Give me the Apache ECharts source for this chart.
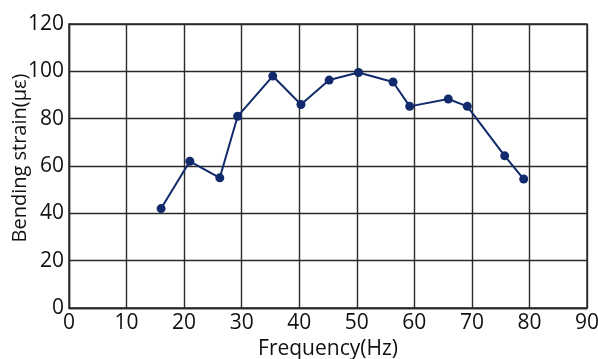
<!DOCTYPE html>
<html>
<head>
<meta charset="utf-8">
<script src="https://cdn.jsdelivr.net/npm/echarts@6/dist/echarts.min.js"></script>
<style>
  html, body { margin: 0; padding: 0; background: #fff; }
  #chart { width: 598px; height: 359px; }
</style>
</head>
<body>
<div id="chart"></div>
<script>
// 频率 (Hz) 与弯曲应变 (με)
const freq = [16, 21, 26.2, 29.3, 35.4, 40.3, 45.2, 50.3, 56.3, 59.2, 65.9, 69.2, 75.7, 79];
const strain = [42, 62, 55, 81, 98, 86, 96.3, 99.5, 95.5, 85.2, 88.3, 85.2, 64.3, 54.5];

const points = freq.map((f, i) => [f, strain[i]]);

const myChart = echarts.init(document.getElementById('chart'));

const gridLine = { show: true, lineStyle: { color: '#2a2a2a', width: 1.4 } };
const labelFont = { color: '#111', fontSize: 21, fontFamily: 'Open Sans' };

const option = {
    animation: false,
    backgroundColor: '#fff',
    grid: {
        left: 69,
        right: 11,
        top: 24,
        bottom: 51,
        outerBoundsMode: 'none',
        containLabel: false,
        show: true,
        borderColor: '#2a2a2a',
        borderWidth: 1.4
    },
    xAxis: {
        type: 'value',
        min: 0,
        max: 90,
        interval: 10,
        name: 'Frequency(Hz)',
        nameLocation: 'middle',
        nameGap: 31,
        nameMoveOverlap: false,
        nameTextStyle: { color: '#111', fontSize: 21, fontFamily: 'Open Sans' },
        axisLine: { show: true, lineStyle: { color: '#2a2a2a', width: 1.4 } },
        axisTick: { show: false },
        axisLabel: Object.assign({ margin: 5 }, labelFont),
        splitLine: gridLine
    },
    yAxis: {
        type: 'value',
        min: 0,
        max: 120,
        interval: 20,
        name: 'Bending strain(με)',
        nameLocation: 'middle',
        nameGap: 39,
        nameMoveOverlap: false,
        nameTextStyle: {
            color: '#111', fontSize: 20, fontFamily: 'Open Sans',
            padding: [0, 0, 0, 16]
        },
        axisLine: { show: true, lineStyle: { color: '#2a2a2a', width: 1.4 } },
        axisTick: { show: false },
        axisLabel: Object.assign({ margin: 5 }, labelFont),
        splitLine: gridLine
    },
    series: [
        {
            type: 'line',
            data: points,
            symbol: 'circle',
            symbolSize: 9,
            lineStyle: { color: '#102a6b', width: 2 },
            itemStyle: { color: '#102a6b' }
        }
    ]
};

myChart.setOption(option);
</script>
</body>
</html>
